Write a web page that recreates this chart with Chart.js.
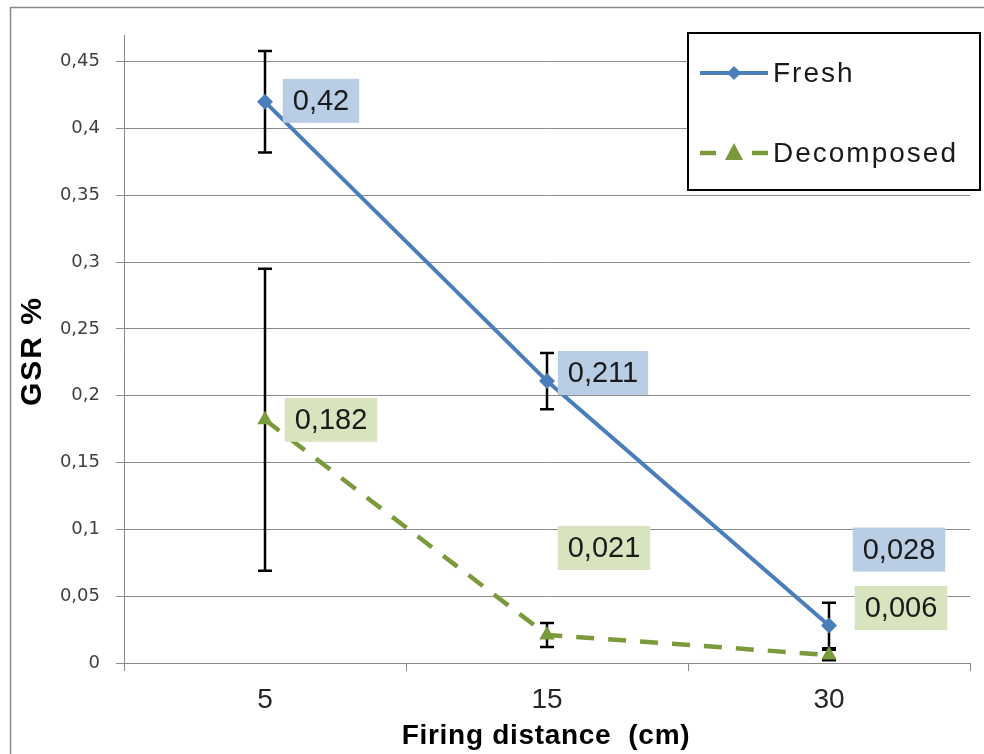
<!DOCTYPE html>
<html>
<head>
<meta charset="utf-8">
<title>GSR % vs firing distance</title>
<script src="https://cdn.jsdelivr.net/npm/chart.js@4"></script>
<style>
  html, body { margin: 0; padding: 0; background: #fff; }
  #wrap { width: 984px; height: 754px; }
</style>
</head>
<body>
<div id="wrap"><canvas id="gsrChart" width="984" height="754"></canvas></div>
<script>
var distances = ['5', '15', '30'];
var freshValues = [0.42, 0.211, 0.028];
var decomposedValues = [0.182, 0.021, 0.006];
var freshErrors = [0.038, 0.021, 0.017];
var decomposedErrors = [0.113, 0.009, 0.004];
var yTickValues = [0, 0.05, 0.1, 0.15, 0.2, 0.25, 0.3, 0.35, 0.4, 0.45];

// where each value box sits, relative to its point (px)
var freshLabelOffsets = [[56, -1], [56, -8], [70, -76]];
var decomposedLabelOffsets = [[66, 0], [57, -87], [72, -47]];

var FONT = '"Liberation Sans", Arial, sans-serif';
var TICK_FONT = '"DejaVu Sans", Verdana, sans-serif';
var BLUE = '#4A7EBB';
var GREEN = '#7A9A3C';

function fmt(v) {
    return String(+v.toFixed(3)).replace('.', ',');
}

var framePlugin = {
    id: 'frame',
    beforeDraw: function (chart) {
        var ctx = chart.ctx;
        ctx.save();
        ctx.strokeStyle = '#8a8a8a';
        ctx.lineWidth = 1.5;
        ctx.strokeRect(10.5, 7.5, 1000, 1000);
        ctx.restore();
    }
};

// error bars, drawn under the markers
var errorBarPlugin = {
    id: 'errorBars',
    beforeDatasetsDraw: function (chart) {
        var ctx = chart.ctx;
        var y = chart.scales.y;
        var sets = [[freshValues, freshErrors, 0], [decomposedValues, decomposedErrors, 1]];
        ctx.save();
        ctx.strokeStyle = '#000';
        ctx.lineWidth = 2.5;
        sets.forEach(function (s) {
            var meta = chart.getDatasetMeta(s[2]);
            s[0].forEach(function (v, i) {
                var x = meta.data[i].x;
                var top = y.getPixelForValue(v + s[1][i]);
                var bot = y.getPixelForValue(v - s[1][i]);
                ctx.beginPath();
                ctx.moveTo(x, top); ctx.lineTo(x, bot);
                ctx.moveTo(x - 7, top); ctx.lineTo(x + 7, top);
                ctx.moveTo(x - 7, bot); ctx.lineTo(x + 7, bot);
                ctx.stroke();
            });
        });
        ctx.restore();
    }
};

// value boxes, titles and legend
var labelPlugin = {
    id: 'valueLabels',
    afterDatasetsDraw: function (chart) {
        var ctx = chart.ctx;
        var sets = [
            [freshValues, freshLabelOffsets, '#B9CDE5', 0],
            [decomposedValues, decomposedLabelOffsets, '#D7E4BD', 1]
        ];
        ctx.save();
        ctx.font = '29px ' + FONT;
        ctx.textAlign = 'center';
        ctx.textBaseline = 'middle';
        sets.forEach(function (s) {
            var meta = chart.getDatasetMeta(s[3]);
            s[0].forEach(function (v, i) {
                var pt = meta.data[i];
                var cx = pt.x + s[1][i][0];
                var cy = pt.y + s[1][i][1];
                var txt = fmt(v);
                var w = ctx.measureText(txt).width + 20;
                ctx.fillStyle = s[2];
                ctx.fillRect(cx - w / 2, cy - 22, w, 44);
                ctx.fillStyle = '#1a1a1a';
                ctx.fillText(txt, cx, cy + 1);
            });
        });
        ctx.restore();
    },
    afterDraw: function (chart) {
        var ctx = chart.ctx;
        ctx.save();
        // axis titles
        ctx.fillStyle = '#000';
        ctx.letterSpacing = '0.7px';
        ctx.font = 'bold 28px ' + FONT;
        ctx.textAlign = 'center';
        ctx.textBaseline = 'middle';
        ctx.fillText('Firing distance  (cm)', 546, 736);
        ctx.translate(33, 352);
        ctx.rotate(-Math.PI / 2);
        ctx.letterSpacing = '2px';
        ctx.font = 'bold 30px ' + FONT;
        ctx.fillText('GSR %', 1, 0);
        ctx.restore();

        // legend
        ctx.save();
        ctx.fillStyle = '#fff';
        ctx.fillRect(688, 33, 292, 157);
        ctx.strokeStyle = '#000';
        ctx.lineWidth = 2;
        ctx.strokeRect(688, 33, 292, 157);

        ctx.lineWidth = 4;
        ctx.strokeStyle = BLUE;
        ctx.beginPath(); ctx.moveTo(700, 73); ctx.lineTo(768, 73); ctx.stroke();
        ctx.fillStyle = BLUE;
        ctx.beginPath();
        ctx.moveTo(734, 66); ctx.lineTo(741, 73); ctx.lineTo(734, 80); ctx.lineTo(727, 73);
        ctx.closePath(); ctx.fill();

        ctx.lineWidth = 4.5;
        ctx.strokeStyle = GREEN;
        ctx.beginPath(); ctx.moveTo(700, 153); ctx.lineTo(716, 153); ctx.stroke();
        ctx.beginPath(); ctx.moveTo(752, 153); ctx.lineTo(768, 153); ctx.stroke();
        ctx.fillStyle = GREEN;
        ctx.beginPath();
        ctx.moveTo(734, 143); ctx.lineTo(743, 160); ctx.lineTo(725, 160);
        ctx.closePath(); ctx.fill();

        ctx.fillStyle = '#1a1a1a';
        ctx.letterSpacing = '2px';
        ctx.font = '28px ' + FONT;
        ctx.textAlign = 'left';
        ctx.textBaseline = 'middle';
        ctx.fillText('Fresh', 773, 74);
        ctx.fillText('Decomposed', 773, 154);
        ctx.restore();
    }
};

var ctx = document.getElementById('gsrChart').getContext('2d');
var myChart = new Chart(ctx, {
    type: 'line',
    data: {
        labels: distances,
        datasets: [{
            label: 'Fresh',
            data: freshValues,
            borderColor: BLUE,
            backgroundColor: BLUE,
            borderWidth: 4,
            pointStyle: 'rectRot',
            pointRadius: 8,
            pointBorderWidth: 0,
            tension: 0
        }, {
            label: 'Decomposed',
            data: decomposedValues,
            borderColor: GREEN,
            backgroundColor: GREEN,
            borderWidth: 4.5,
            borderDash: [18, 14],
            pointStyle: 'triangle',
            pointRadius: 9,
            pointBorderWidth: 0,
            tension: 0
        }]
    },
    options: {
        responsive: false,
        animation: false,
        layout: { padding: { top: 35, right: 14, left: 0, bottom: 0 } },
        plugins: {
            legend: { display: false },
            tooltip: { enabled: false }
        },
        scales: {
            x: {
                offset: true,
                grid: { offset: true, drawOnChartArea: false, tickLength: 8, color: '#868686' },
                border: { color: '#868686', width: 1 },
                ticks: { font: { family: FONT, size: 28 }, color: '#262626', padding: 12 },
                afterFit: function (s) { s.height = 91; }
            },
            y: {
                min: 0,
                max: 0.47,
                afterBuildTicks: function (s) {
                    s.ticks = yTickValues.map(function (v) { return { value: v }; });
                },
                grid: { color: '#8c8c8c', tickLength: 8 },
                border: { color: '#868686', width: 1 },
                ticks: {
                    font: { family: TICK_FONT, size: 18 },
                    color: '#404040',
                    padding: 16,
                    callback: function (v) { return fmt(v); }
                },
                afterFit: function (s) { s.width = 124; }
            }
        }
    },
    plugins: [framePlugin, errorBarPlugin, labelPlugin]
});
</script>
</body>
</html>
